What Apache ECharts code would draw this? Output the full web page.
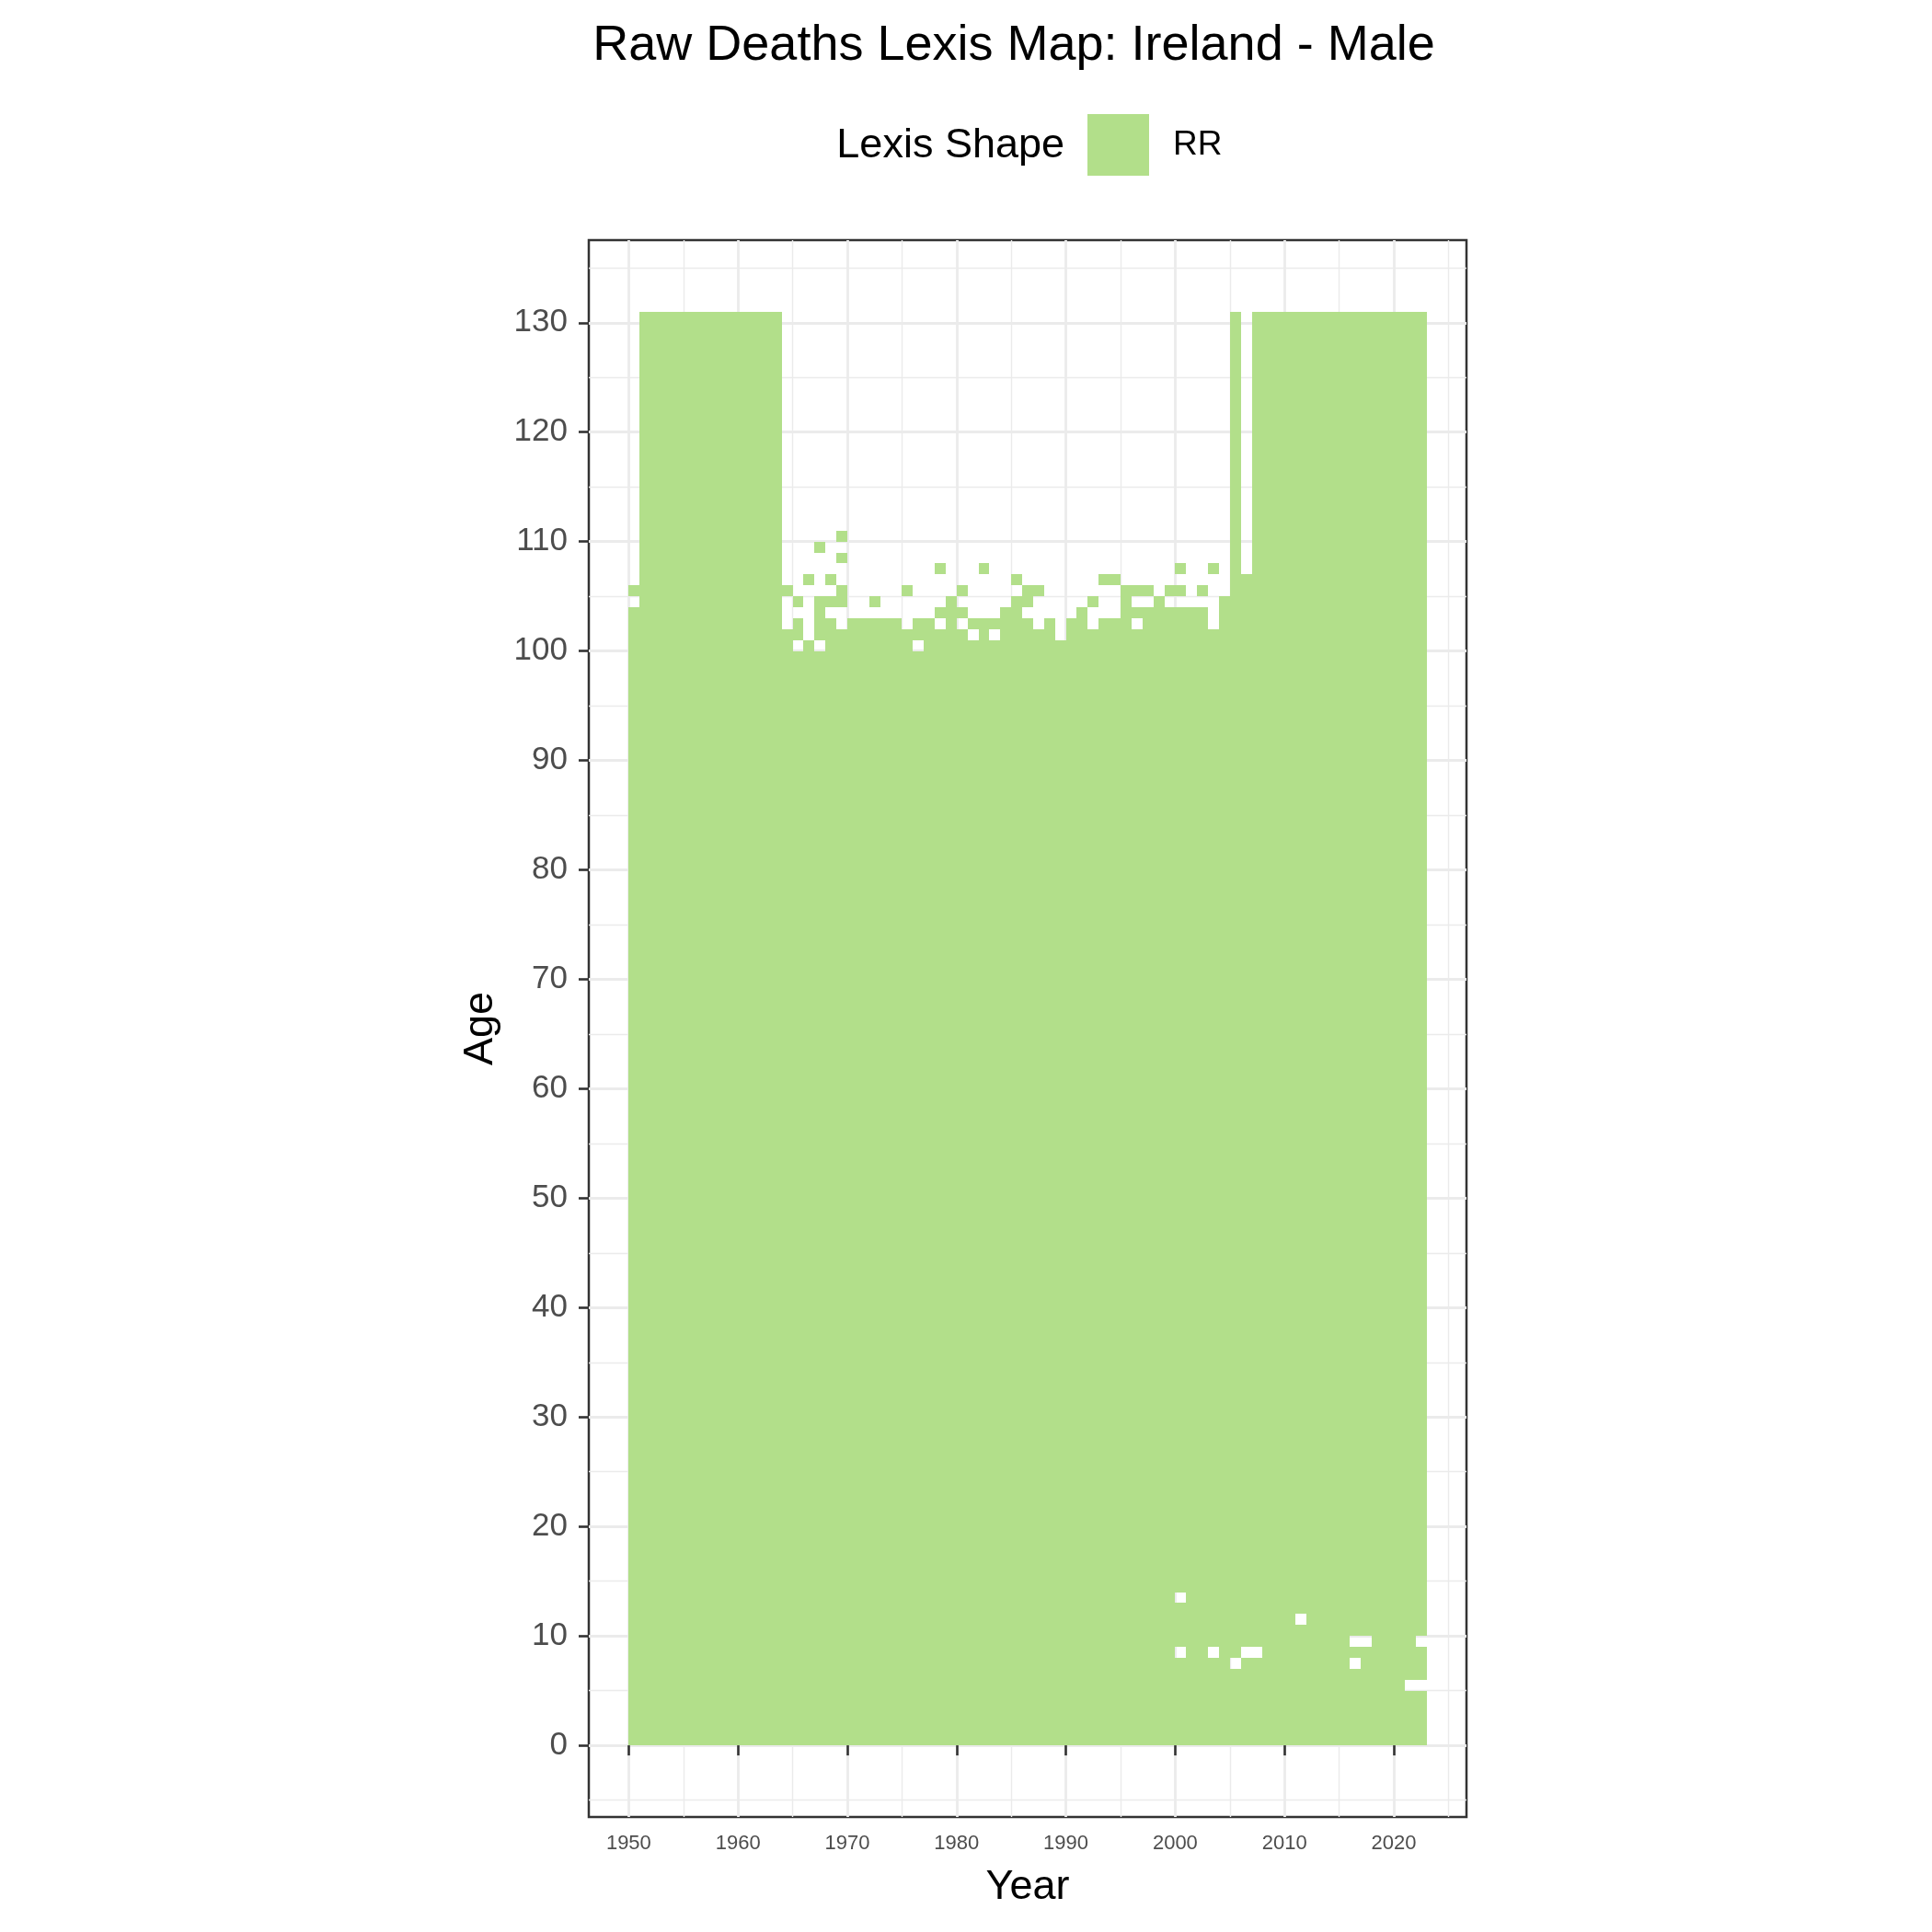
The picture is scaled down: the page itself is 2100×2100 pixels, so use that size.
<!DOCTYPE html>
<html>
<head>
<meta charset="utf-8">
<script src="https://cdn.jsdelivr.net/npm/echarts@6/dist/echarts.min.js"></script>
<style>
html,body{margin:0;padding:0;background:#ffffff;}
#chart{width:2100px;height:2100px;}
</style>
</head>
<body>
<div id="chart"></div>
<script>
// ---------------- data ----------------
const years = [1950,1951,1952,1953,1954,1955,1956,1957,1958,1959,1960,1961,1962,1963,
  1964,1965,1966,1967,1968,1969,1970,1971,1972,1973,1974,1975,1976,1977,1978,1979,
  1980,1981,1982,1983,1984,1985,1986,1987,1988,1989,1990,1991,1992,1993,1994,1995,
  1996,1997,1998,1999,2000,2001,2002,2003,2004,2005,2006,2007,2008,2009,2010,2011,
  2012,2013,2014,2015,2016,2017,2018,2019,2020,2021,2022];

// highest age of the solid block starting at age 0, per year
const solidTop = [103,130,130,130,130,130,130,130,130,130,130,130,130,130,
  101,99,100,99,102,101,102,102,102,102,102,101,99,102,101,104,
  101,100,102,100,103,104,102,101,102,100,102,103,101,102,102,105,
  101,103,104,103,103,103,103,101,104,130,106,130,130,130,130,130,
  130,130,130,130,130,130,130,130,130,130,130];

// isolated filled cells above the solid block [year, age]
const extraCells = [[1950,105],[1964,105],[1965,101],[1965,102],[1965,104],[1966,106],
  [1967,101],[1967,102],[1967,103],[1967,104],[1967,109],[1968,104],[1968,106],
  [1969,104],[1969,105],[1969,108],[1969,110],[1972,104],[1975,105],[1976,101],[1976,102],
  [1978,103],[1978,107],[1980,103],[1980,105],[1981,102],[1982,107],[1983,102],
  [1985,106],[1986,104],[1986,105],[1987,105],[1992,104],[1993,106],[1994,106],
  [1996,103],[1996,105],[1997,105],[1999,105],[2000,105],[2000,107],[2002,105],[2003,107]];

// empty cells inside the solid block [year, age]
const holeCells = [[2000,13],[2000,8],[2003,8],[2005,7],[2006,8],[2007,8],[2011,11],
  [2016,9],[2017,9],[2016,7],[2021,5],[2022,5],[2022,9]];

const xTicks = [1950,1960,1970,1980,1990,2000,2010,2020];
const xMinor = [1955,1965,1975,1985,1995,2005,2015,2025];
const yTicks = [0,10,20,30,40,50,60,70,80,90,100,110,120,130];
const yMinor = [-5,5,15,25,35,45,55,65,75,85,95,105,115,125,135];
const shapeName = 'RR';

// ---------------- build runs of filled cells ----------------
const runs = [];
years.forEach((yr, i) => {
  const filled = new Set();
  for (let a = 0; a <= solidTop[i]; a++) filled.add(a);
  extraCells.forEach(c => { if (c[0] === yr) filled.add(c[1]); });
  holeCells.forEach(c => { if (c[0] === yr) filled.delete(c[1]); });
  const ages = Array.from(filled).sort((p, q) => p - q);
  let start = null, prev = null;
  ages.forEach(a => {
    if (start === null) { start = a; prev = a; }
    else if (a === prev + 1) { prev = a; }
    else { runs.push([yr, start, prev + 1]); start = a; prev = a; }
  });
  if (start !== null) runs.push([yr, start, prev + 1]);
});

const FONT = 'Liberation Sans';
const GREEN = '#B2DF8A';
const xMin = 1946.35, xMax = 2026.65, yMin = -6.55, yMax = 137.55;

const chart = echarts.init(document.getElementById('chart'));
chart.setOption({
  backgroundColor: '#ffffff',
  animation: false,
  textStyle: { fontFamily: FONT },
  graphic: [
    { type: 'text', x: 1102, y: 50,
      style: { text: 'Raw Deaths Lexis Map: Ireland - Male', fontSize: 54, fontFamily: FONT,
               fill: '#000000', textAlign: 'center', textVerticalAlign: 'middle' } },
    { type: 'text', x: 1157, y: 159,
      style: { text: 'Lexis Shape', fontSize: 45, fontFamily: FONT,
               fill: '#000000', textAlign: 'right', textVerticalAlign: 'middle' } }
  ],
  legend: {
    data: [{ name: shapeName, icon: 'rect' }],
    left: 1177, top: 119,
    itemWidth: 67, itemHeight: 67,
    selectedMode: false,
    textStyle: { fontSize: 37, color: '#000000', fontFamily: FONT, padding: [0, 0, 0, 21] }
  },
  grid: {
    left: 640, top: 261, width: 954, height: 1714,
    show: true, borderColor: '#333333', borderWidth: 2.5, backgroundColor: 'transparent',
    containLabel: false
  },
  xAxis: [
    {
      type: 'value', min: xMin, max: xMax, position: 'bottom',
      name: 'Year', nameLocation: 'middle', nameGap: 54,
      nameTextStyle: { fontSize: 45, color: '#000000', fontFamily: FONT },
      axisLine: { show: false },
      axisTick: { show: true, length: 11, customValues: xTicks,
                  lineStyle: { color: '#333333', width: 2.6 } },
      axisLabel: { customValues: xTicks, fontSize: 22, color: '#4D4D4D', margin: 18, fontFamily: FONT,
                   formatter: v => String(v) },
      splitLine: { show: true, lineStyle: { color: '#EBEBEB', width: 2.8 } }
    },
    {
      type: 'value', min: xMin, max: xMax, position: 'bottom',
      axisLine: { show: false },
      axisTick: { show: false, customValues: xMinor },
      axisLabel: { show: false },
      splitLine: { show: true, lineStyle: { color: '#EBEBEB', width: 1.4 } }
    }
  ],
  yAxis: [
    {
      type: 'value', min: yMin, max: yMax, position: 'left',
      name: 'Age', nameLocation: 'middle', nameGap: 95,
      nameTextStyle: { fontSize: 45, color: '#000000', fontFamily: FONT },
      axisLine: { show: false },
      axisTick: { show: true, length: 11, customValues: yTicks,
                  lineStyle: { color: '#333333', width: 2.6 } },
      axisLabel: { customValues: yTicks, fontSize: 35, color: '#4D4D4D', margin: 23, fontFamily: FONT,
                   formatter: v => String(v) },
      splitLine: { show: true, lineStyle: { color: '#EBEBEB', width: 2.8 } }
    },
    {
      type: 'value', min: yMin, max: yMax, position: 'left',
      axisLine: { show: false },
      axisTick: { show: false, customValues: yMinor },
      axisLabel: { show: false },
      splitLine: { show: true, lineStyle: { color: '#EBEBEB', width: 1.4 } }
    }
  ],
  series: [
    {
      name: shapeName,
      type: 'custom',
      xAxisIndex: 0, yAxisIndex: 0,
      itemStyle: { color: GREEN },
      encode: { x: 0, y: [1, 2] },
      data: runs,
      renderItem: function (params, api) {
        const yr = api.value(0), a0 = api.value(1), a1 = api.value(2);
        const p0 = api.coord([yr, a0]);
        const p1 = api.coord([yr + 1, a1]);
        const x0 = Math.round(p0[0]), x1 = Math.round(p1[0]);
        const yb = Math.round(p0[1]), yt = Math.round(p1[1]);
        return { type: 'rect', shape: { x: x0, y: yt, width: x1 - x0, height: yb - yt },
                 style: { fill: GREEN } };
      }
    }
  ]
});
</script>
</body>
</html>
